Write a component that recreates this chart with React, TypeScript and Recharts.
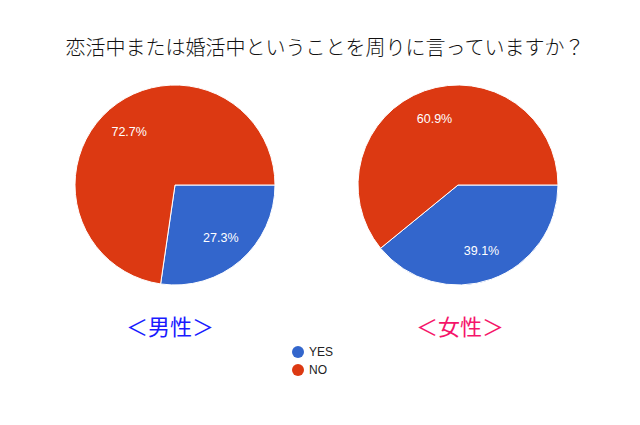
import React from "react";
import { PieChart, Pie, Cell } from "recharts";

const categories = ["YES", "NO"];
const maleValues = [27.3, 72.7];
const femaleValues = [39.1, 60.9];
const colors = ["#3366cc", "#dc3912"];
const titleText = "恋活中または婚活中ということを周りに言っていますか？";
const maleLabel = "＜男性＞";
const femaleLabel = "＜女性＞";

const maleData = categories.map((name, i) => ({ name, value: maleValues[i] }));
const femaleData = categories.map((name, i) => ({ name, value: femaleValues[i] }));

const RAD = Math.PI / 180;
const renderLabel = (props: any) => {
  const { cx, cy, midAngle, outerRadius, value } = props;
  const r = outerRadius * 0.7;
  const x = cx + r * Math.cos(-midAngle * RAD);
  const y = cy + r * Math.sin(-midAngle * RAD);
  return (
    <text
      x={x}
      y={y}
      fill="#ffffff"
      textAnchor="middle"
      dominantBaseline="central"
      fontSize={12.5}
      fontFamily="'Liberation Sans', Arial, sans-serif"
    >
      {value.toFixed(1)}%
    </text>
  );
};

export default function App() {
  return (
    <div style={{ position: "absolute", left: 0, top: 0, width: 640, height: 425, background: "#fff" }}>
      <PieChart width={640} height={425} margin={{ top: 0, right: 0, bottom: 0, left: 0 }}>
        <Pie
          data={maleData}
          dataKey="value"
          nameKey="name"
          cx={175}
          cy={185}
          outerRadius={100}
          startAngle={0}
          endAngle={-360}
          stroke="#ffffff"
          strokeWidth={1}
          label={renderLabel}
          labelLine={false}
          isAnimationActive={false}
        >
          {maleData.map((d, i) => (
            <Cell key={d.name} fill={colors[i]} />
          ))}
        </Pie>
        <Pie
          data={femaleData}
          dataKey="value"
          nameKey="name"
          cx={458}
          cy={185}
          outerRadius={100}
          startAngle={0}
          endAngle={-360}
          stroke="#ffffff"
          strokeWidth={1}
          label={renderLabel}
          labelLine={false}
          isAnimationActive={false}
        >
          {femaleData.map((d, i) => (
            <Cell key={d.name} fill={colors[i]} />
          ))}
        </Pie>
      </PieChart>
      <div
        style={{
          position: "absolute",
          left: 291,
          top: 343,
          fontFamily: "'Liberation Sans', Arial, sans-serif",
          fontSize: 12,
          color: "#222",
        }}
      >
        {categories.map((c, i) => (
          <div key={c} style={{ display: "flex", alignItems: "center", height: 18 }}>
            <svg width={14} height={14} style={{ marginRight: 4 }}>
              <circle cx={7} cy={7} r={6} fill={colors[i]} />
            </svg>
            <span>{c}</span>
          </div>
        ))}
      </div>
      <div
        style={{
          position: "absolute",
          left: 0,
          width: 640,
          top: 33,
          textAlign: "center",
          fontFamily: "'Noto Sans CJK JP', sans-serif",
          fontSize: 20,
          fontWeight: 300,
          lineHeight: "28px",
          color: "#111",
          paddingLeft: 10,
          boxSizing: "border-box",
          whiteSpace: "nowrap",
        }}
      >
        {titleText}
      </div>
      <div
        style={{
          position: "absolute",
          left: 120,
          top: 310,
          width: 100,
          textAlign: "center",
          fontFamily: "'Noto Sans CJK JP', sans-serif",
          fontSize: 22,
          lineHeight: "30px",
          color: "#1a1aff",
        }}
      >
        {maleLabel}
      </div>
      <div
        style={{
          position: "absolute",
          left: 410,
          top: 310,
          width: 100,
          textAlign: "center",
          fontFamily: "'Noto Sans CJK JP', sans-serif",
          fontSize: 22,
          lineHeight: "30px",
          color: "#f5146a",
        }}
      >
        {femaleLabel}
      </div>
    </div>
  );
}
